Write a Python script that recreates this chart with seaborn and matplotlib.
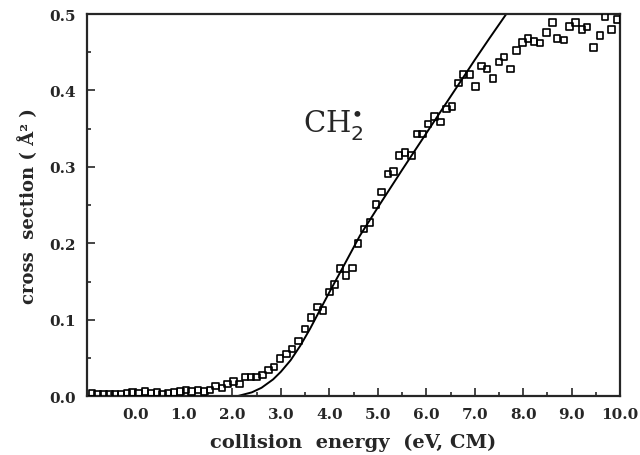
import numpy as np
import pandas as pd
import seaborn as sns
import matplotlib.pyplot as plt
from matplotlib.ticker import MultipleLocator, FormatStrFormatter

# measured cross sections (open squares)
energy = [-0.90, -0.78, -0.66, -0.54, -0.42, -0.30, -0.18, -0.07, 0.06, 0.20,
          0.32, 0.44, 0.56, 0.67, 0.79, 0.92, 1.04, 1.16, 1.29, 1.41,
          1.54, 1.65, 1.78, 1.90, 2.02, 2.15, 2.26, 2.38, 2.50, 2.62,
          2.74, 2.86, 2.98, 3.12, 3.23, 3.36, 3.50, 3.62, 3.75, 3.87,
          4.00, 4.11, 4.22, 4.34, 4.48, 4.59, 4.71, 4.84, 4.96, 5.08,
          5.21, 5.32, 5.44, 5.56, 5.69, 5.81, 5.92, 6.04, 6.17, 6.29,
          6.42, 6.53, 6.66, 6.76, 6.90, 7.01, 7.14, 7.25, 7.38, 7.50,
          7.60, 7.74, 7.86, 7.98, 8.10, 8.22, 8.35, 8.48, 8.60, 8.70,
          8.84, 8.96, 9.08, 9.21, 9.32, 9.45, 9.58, 9.69, 9.82, 9.93]
sigma = [0.004, 0.003, 0.003, 0.002, 0.003, 0.003, 0.004, 0.005, 0.004, 0.006,
         0.004, 0.005, 0.003, 0.004, 0.005, 0.006, 0.008, 0.006, 0.008, 0.006,
         0.008, 0.013, 0.011, 0.016, 0.019, 0.016, 0.025, 0.025, 0.025, 0.028,
         0.034, 0.038, 0.049, 0.055, 0.062, 0.072, 0.088, 0.103, 0.117, 0.112,
         0.136, 0.146, 0.167, 0.158, 0.168, 0.200, 0.219, 0.227, 0.251, 0.267,
         0.291, 0.294, 0.315, 0.319, 0.315, 0.343, 0.343, 0.356, 0.366, 0.359,
         0.376, 0.379, 0.410, 0.421, 0.421, 0.405, 0.432, 0.428, 0.416, 0.437,
         0.444, 0.428, 0.452, 0.463, 0.468, 0.464, 0.462, 0.476, 0.489, 0.468,
         0.466, 0.484, 0.489, 0.480, 0.483, 0.456, 0.472, 0.497, 0.480, 0.493]

# model fit (solid line)
fit_energy = [2.10, 2.40, 2.60, 2.84, 3.00, 3.20, 3.40, 3.60, 3.80, 4.00,
              4.30, 4.63, 5.00, 5.50, 6.00, 6.50, 6.73, 7.00, 7.30, 7.65]
fit_sigma = [0.000, 0.005, 0.011, 0.022, 0.032, 0.047, 0.066, 0.088, 0.112, 0.136,
             0.171, 0.210, 0.247, 0.296, 0.344, 0.392, 0.414, 0.440, 0.468, 0.500]

data_df = pd.DataFrame({"energy": energy, "sigma": sigma})
fit_df = pd.DataFrame({"energy": fit_energy, "sigma": fit_sigma})

sns.set_style("ticks")
plt.rcParams["font.family"] = ["DejaVu Serif"]

fig = plt.figure(figsize=(6.4, 4.56), dpi=100)
ax = fig.add_axes([0.136, 0.129, 0.833, 0.838])

sns.lineplot(x="energy", y="sigma", data=fit_df, color="black", linewidth=1.4, ax=ax)
sns.scatterplot(x="energy", y="sigma", data=data_df, marker="s", s=22,
                facecolors="none", edgecolor="black", linewidth=1.2, ax=ax, zorder=3)

ax.set_xlim(-1.0, 10.0)
ax.set_ylim(0.0, 0.5)
ax.xaxis.set_major_locator(MultipleLocator(1.0))
ax.xaxis.set_minor_locator(MultipleLocator(0.5))
ax.yaxis.set_major_locator(MultipleLocator(0.1))
ax.yaxis.set_minor_locator(MultipleLocator(0.05))
ax.xaxis.set_major_formatter(FormatStrFormatter("%.1f"))
ax.yaxis.set_major_formatter(FormatStrFormatter("%.1f"))
ax.set_xticks([x for x in range(0, 11)])

ax.tick_params(which="both", direction="in", top=False, right=False, width=1.2)
ax.tick_params(which="major", length=6, labelsize=11, pad=8)
ax.tick_params(which="minor", length=3)
for lab in ax.get_xticklabels() + ax.get_yticklabels():
    lab.set_fontweight("bold")
for side in ["left", "right", "top", "bottom"]:
    ax.spines[side].set_linewidth(1.6)
    ax.spines[side].set_visible(True)

ax.set_xlabel("collision  energy  (eV, CM)", fontsize=14, fontweight="bold", labelpad=8)
ax.set_ylabel("cross  section ( Å² )", fontsize=13, fontweight="bold", labelpad=8)

ax.text(3.45, 0.356, r"CH$_2^{\bullet}$", fontsize=21, va="center", ha="left",
        family="DejaVu Serif")

fig.savefig("out.png", dpi=100)
